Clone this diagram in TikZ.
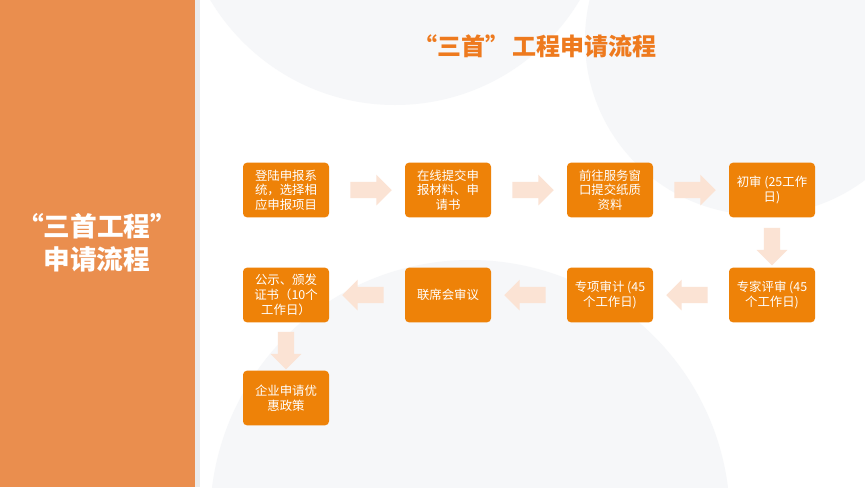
\documentclass[tikz,border=0pt]{standalone}
\usepackage{fontspec}
\setmainfont{Noto Sans CJK SC}
\usetikzlibrary{shapes.arrows,calc}
\definecolor{panel}{HTML}{EA8E4E}
\definecolor{boxfill}{HTML}{EE8208}
\definecolor{peach}{HTML}{FBE3D4}
\definecolor{ghost}{HTML}{F6F7F9}
\definecolor{titlecol}{HTML}{EE7A1E}
\begin{document}
\begin{tikzpicture}[x=0.75pt, y=-0.75pt,
    stepbox/.style={rectangle, rounded corners=3pt, fill=boxfill, text=white, minimum width=64.5pt, minimum height=41pt, align=center, font=\fontsize{9.3}{11}\selectfont, inner sep=1pt},
    flow/.style={single arrow, fill=peach, minimum height=31pt, minimum width=23pt, single arrow head extend=5pt, inner sep=5.5pt}]

    % background
    \fill[white] (0,0) rectangle (865,487);
    \begin{scope}
    \clip (200,0) rectangle (865,487);
    \fill[ghost] (395,-110) circle (215);
    \fill[ghost] (760,40) circle (175);
    \fill[ghost] (470,520) circle (260);
    \end{scope}
    \fill[black!8] (195,0) rectangle (200,487);
    \fill[panel] (0,0) rectangle (195,487);
    \node[text=white, align=center, font=\fontsize{20}{25}\selectfont\bfseries] (side) at (97,243) {“三首工程”\\申请流程};
    \node[text=titlecol, font=\fontsize{18}{20}\selectfont\bfseries] (title) at (535,46) {“三首”\,工程申请流程};

    % steps
    \node[stepbox] (s1) at (286,190) {登陆申报系\\统，选择相\\应申报项目};
    \node[stepbox] (s2) at (448,190) {在线提交申\\报材料、申\\请书};
    \node[stepbox] (s3) at (610,190) {前往服务窗\\口提交纸质\\资料};
    \node[stepbox] (s4) at (772,190) {初审 (25工作\\日)};
    \node[stepbox] (s5) at (772,295) {专家评审 (45\\个工作日)};
    \node[stepbox] (s6) at (610,295) {专项审计 (45\\个工作日)};
    \node[stepbox] (s7) at (448,295) {联席会审议};
    \node[stepbox] (s8) at (286,295) {公示、颁发\\证书（10个\\工作日）};
    \node[stepbox] (s9) at (286,398) {企业申请优\\惠政策};

    % arrows
    \node[flow] (a1) at ($(s1)!0.5!(s2)$) {};
    \node[flow] (a2) at ($(s2)!0.5!(s3)$) {};
    \node[flow] (a3) at ($(s3)!0.5!(s4)$) {};
    \node[flow, rotate=-90, minimum height=28pt] (a4) at ($(s4)!0.5!(s5)$) {};
    \node[flow, rotate=180] (a5) at ($(s5)!0.5!(s6)$) {};
    \node[flow, rotate=180] (a6) at ($(s6)!0.5!(s7)$) {};
    \node[flow, rotate=180] (a7) at ($(s7)!0.5!(s8)$) {};
    \node[flow, rotate=-90, minimum height=28pt] (a8) at ($(s8)!0.5!(s9)$) {};
\end{tikzpicture}
\end{document}
